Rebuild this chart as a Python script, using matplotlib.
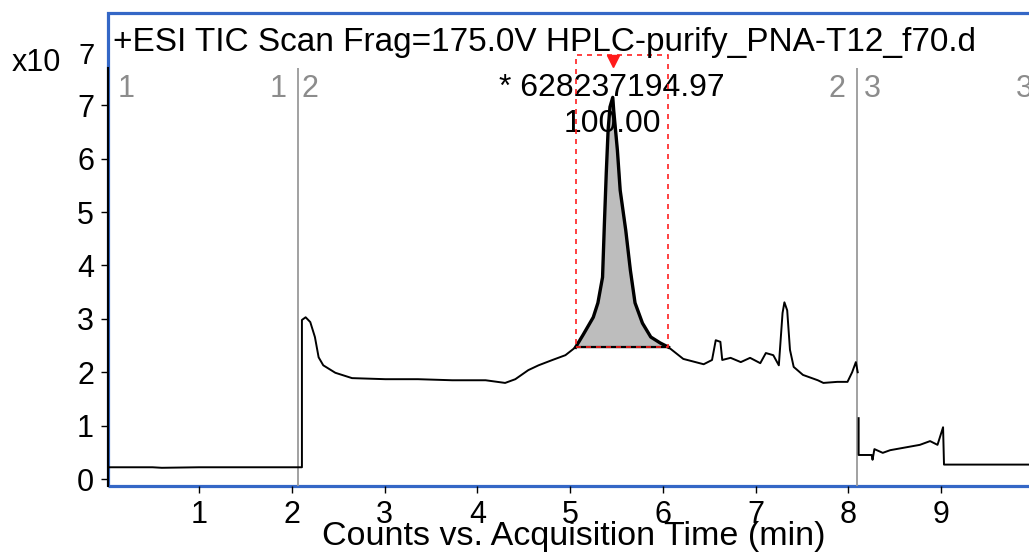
import matplotlib.pyplot as plt
from matplotlib.patches import Rectangle

plt.rcParams['font.family'] = ['Liberation Sans', 'DejaVu Sans']

# acquisition time (min) and counts (x10^7)
time_a = [0.0, 0.5, 0.6, 1.0, 1.5, 2.11, 2.11, 2.15, 2.20, 2.25, 2.29, 2.34,
          2.47, 2.65, 3.01, 3.36, 3.73, 4.09, 4.30, 4.41, 4.55, 4.66, 4.81,
          4.95, 5.06]
counts_a = [0.22, 0.22, 0.21, 0.22, 0.22, 0.22, 2.98, 3.03, 2.94, 2.66, 2.28,
            2.13, 1.99, 1.89, 1.87, 1.87, 1.85, 1.85, 1.80, 1.87, 2.04, 2.13,
            2.23, 2.32, 2.47]

peak_time = [5.06, 5.14, 5.25, 5.30, 5.35, 5.37, 5.39, 5.41, 5.43, 5.46, 5.47,
             5.51, 5.54, 5.60, 5.65, 5.70, 5.78, 5.87, 5.97, 6.06]
peak_counts = [2.47, 2.70, 3.03, 3.30, 3.78, 4.79, 5.73, 6.54, 6.97, 7.15,
               6.91, 6.16, 5.41, 4.66, 3.91, 3.30, 2.92, 2.66, 2.55, 2.47]

time_b = [6.06, 6.22, 6.44, 6.53, 6.57, 6.62, 6.64, 6.73, 6.84, 6.94, 7.05,
          7.11, 7.19, 7.25, 7.29, 7.31, 7.34, 7.37, 7.41, 7.51, 7.67, 7.73,
          7.88, 7.99, 8.04, 8.08, 8.10]
counts_b = [2.47, 2.25, 2.15, 2.23, 2.60, 2.57, 2.23, 2.27, 2.19, 2.27, 2.17,
            2.36, 2.32, 2.13, 3.11, 3.31, 3.16, 2.42, 2.10, 1.95, 1.85, 1.80,
            1.82, 1.82, 2.00, 2.19, 2.00]

time_c = [8.11, 8.11, 8.25, 8.26, 8.28, 8.37, 8.45, 8.77, 8.88, 8.96, 9.02,
          9.03, 9.5, 10.0]
counts_c = [1.14, 0.45, 0.45, 0.36, 0.56, 0.49, 0.54, 0.64, 0.71, 0.64, 0.97,
            0.27, 0.27, 0.27]

baseline = 2.47
segment_cuts = [2.067, 8.094]
segment_labels = [(0.12, '1', 'left'), (1.95, '1', 'right'), (2.11, '2', 'left'),
                  (7.97, '2', 'right'), (8.17, '3', 'left'), (9.80, '3', 'left')]
x_ticks = [1, 2, 3, 4, 5, 6, 7, 8, 9]
y_ticks = [0, 1, 2, 3, 4, 5, 6, 7]

fig = plt.figure(figsize=(10.29, 5.54), dpi=100)
fig.patch.set_facecolor('white')
ax = fig.add_axes([108 / 1029, (554 - 486) / 554, 926 / 1029, 418 / 554])
ax.patch.set_visible(False)

# blue outer frame
frame = Rectangle((108 / 1029, (554 - 486) / 554), 0.92, (486 - 13) / 554,
                  transform=fig.transFigure, fill=False, edgecolor='#3467c6',
                  linewidth=2.3, zorder=-1)
fig.patches.append(frame)

ax.set_xlim(0.02, 10.0)
ax.set_ylim(-0.131, 7.70)

for c in segment_cuts:
    ax.axvline(c, color='#9a9a9a', lw=1.3, zorder=1)

ax.plot(time_a, counts_a, color='black', lw=1.4, zorder=3)
ax.plot(time_b, counts_b, color='black', lw=1.4, zorder=3)
ax.plot(time_c, counts_c, color='black', lw=1.4, zorder=3)
ax.fill_between(peak_time, peak_counts, baseline, color='#bdbdbd', zorder=2)
ax.plot(peak_time, peak_counts, color='black', lw=2.4, zorder=3)
ax.plot([peak_time[0], peak_time[-1]], [baseline, baseline], color='black', lw=1.6, zorder=3)

# integration window + apex marker
ax.add_patch(Rectangle((peak_time[0], baseline), peak_time[-1] - peak_time[0], 7.94 - baseline,
                       fill=False, edgecolor='#ff2020', lw=1.2, ls=(0, (3, 3)),
                       clip_on=False, zorder=4))
ax.plot([5.46], [7.83], marker='v', color='#ff1a1a', markersize=9, clip_on=False, zorder=5)
ax.text(5.45, 7.32, '* 628237194.97', ha='center', va='center', fontsize=23)
ax.text(5.46, 6.66, '100.00', ha='center', va='center', fontsize=23)

for x, s, ha in segment_labels:
    ax.text(x, 7.30, s, ha=ha, va='center', fontsize=22, color='#8c8c8c', clip_on=False)

for side in ['top', 'right', 'bottom']:
    ax.spines[side].set_visible(False)
ax.spines['left'].set_color('black')
ax.spines['left'].set_linewidth(1.5)

ax.set_xticks(x_ticks)
ax.set_yticks(y_ticks)
ax.tick_params(axis='both', direction='out', length=5, width=1, labelsize=22)
ax.tick_params(axis='x', pad=5)
ax.tick_params(axis='y', pad=5)

fig.text(113 / 1029, (554 - 43) / 554, '+ESI TIC Scan Frag=175.0V HPLC-purify_PNA-T12_f70.d',
         ha='left', va='center', fontsize=24)
fig.text(12 / 1029, (554 - 63) / 554, 'x10', ha='left', va='center', fontsize=22)
fig.text(78 / 1029, (554 - 56) / 554, '7', ha='left', va='center', fontsize=21)
fig.text(574 / 1029, (554 - 537) / 554, 'Counts vs. Acquisition Time (min)',
         ha='center', va='center', fontsize=24.5)

fig.savefig('out.png', dpi=100)
